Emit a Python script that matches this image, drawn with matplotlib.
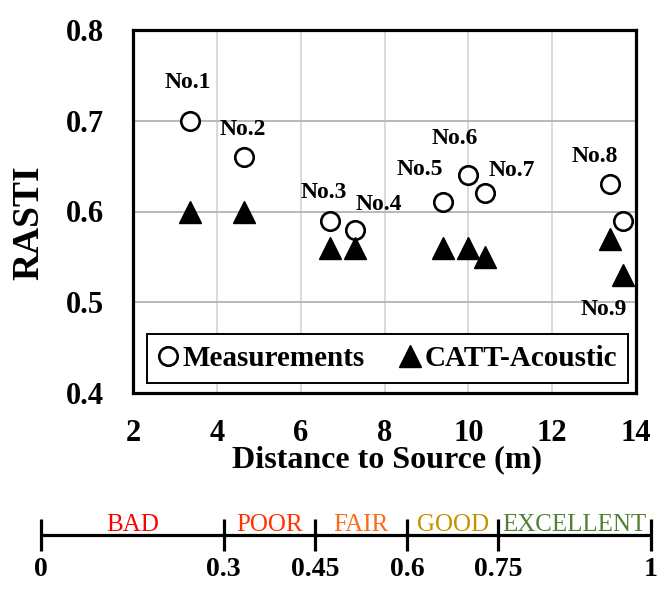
import matplotlib
matplotlib.use("Agg")
import matplotlib.pyplot as plt
from matplotlib.lines import Line2D

plt.rcParams['font.family'] = ['Liberation Serif', 'DejaVu Serif']

# ---- data ----
distance = [3.36, 4.64, 6.70, 7.29, 9.39, 10.0, 10.39, 13.39, 13.68]
measured = [0.70, 0.66, 0.59, 0.58, 0.61, 0.64, 0.62, 0.63, 0.59]
catt = [0.60, 0.60, 0.56, 0.56, 0.56, 0.56, 0.55, 0.57, 0.53]
point_labels = ['No.1', 'No.2', 'No.3', 'No.4', 'No.5', 'No.6', 'No.7', 'No.8', 'No.9']
x_ticks = [2, 4, 6, 8, 10, 12, 14]
y_ticks = [0.4, 0.5, 0.6, 0.7, 0.8]

scale_bounds = [0, 0.3, 0.45, 0.6, 0.75, 1]
scale_tick_labels = ['0', '0.3', '0.45', '0.6', '0.75', '1']
scale_categories = ['BAD', 'POOR', 'FAIR', 'GOOD', 'EXCELLENT']

# ---- layout / style ----
label_offsets = [(-2, 33), (-1, 22), (-6, 23), (24, 20), (-23, 27),
                 (-14, 31), (27, 17), (-16, 22), (-19, -40)]
label_on_catt = [False] * 8 + [True]
cat_colors = ['#ff0000', '#ff3300', '#ff6a13', '#c39200', '#538135']

fig = plt.figure(figsize=(6.66, 5.9), dpi=100)
ax = fig.add_axes([133 / 666, 197 / 590, 503 / 666, 363 / 590])

ax.set_xlim(2, 14)
ax.set_ylim(0.4, 0.8)
ax.set_xticks(x_ticks)
ax.set_yticks(y_ticks)
ax.set_xticklabels([str(t) for t in x_ticks])
ax.set_yticklabels([f'{t:.1f}' for t in y_ticks])
ax.tick_params(axis='both', length=0, labelsize=22)
ax.tick_params(axis='x', pad=19)
ax.tick_params(axis='y', pad=21)
for lab in ax.get_xticklabels() + ax.get_yticklabels():
    lab.set_fontweight('bold')

ax.grid(axis='y', color='#b8b8b8', lw=1.4)
ax.grid(axis='x', color='#d9d9d9', lw=1.4)
ax.set_axisbelow(True)
for sp in ax.spines.values():
    sp.set_linewidth(2.3)
    sp.set_color('black')

ax.plot(distance, measured, linestyle='none', marker='o', ms=13.3,
        mfc='white', mec='black', mew=1.9, zorder=3)
ax.plot(distance, catt, linestyle='none', marker='^', ms=15.5,
        mfc='black', mec='black', mew=1, zorder=3)

for i, lab in enumerate(point_labels):
    yv = catt[i] if label_on_catt[i] else measured[i]
    ax.annotate(lab, (distance[i], yv), xytext=label_offsets[i],
                textcoords='offset pixels', ha='center', va='baseline',
                fontsize=17, fontweight='bold', zorder=4)

ax.set_ylabel('RASTI', fontsize=27, fontweight='bold')
ax.yaxis.set_label_coords(-0.173, 0.468)
ax.set_xlabel('Distance to Source (m)', fontsize=23, fontweight='bold', va='top')
ax.xaxis.set_label_coords(0.505, -0.143)

handles = [Line2D([], [], linestyle='none', marker='o', ms=13.3, mfc='white',
                  mec='black', mew=1.9),
           Line2D([], [], linestyle='none', marker='^', ms=15.5, mfc='black',
                  mec='black', mew=1)]
leg = ax.legend(handles, ['Measurements', 'CATT-Acoustic'], ncol=2,
                loc='lower center', bbox_to_anchor=(0.506, 0.028),
                prop={'family': 'Liberation Serif', 'weight': 'bold', 'size': 21},
                frameon=True, fancybox=False, edgecolor='black', framealpha=1,
                handlelength=0.7, handletextpad=0.15, columnspacing=1.2,
                borderpad=0.38, borderaxespad=0)
leg.get_frame().set_linewidth(1.4)

# ---- scale bar ----
sax = fig.add_axes([40.7 / 666, 35 / 590, 610.3 / 666, 40 / 590])
sax.set_xlim(0, 1)
sax.set_ylim(-1, 1)
sax.axis('off')
sax.plot([scale_bounds[0], scale_bounds[-1]], [0, 0], color='black', lw=2.3,
         solid_capstyle='butt', clip_on=False)
sax.vlines(scale_bounds, -0.8, 0.8, color='black', lw=2.3, clip_on=False)
for b, t in zip(scale_bounds, scale_tick_labels):
    sax.text(b, -2.05, t, ha='center', va='baseline', fontsize=20,
             fontweight='bold', clip_on=False)
for i, c in enumerate(scale_categories):
    mid = (scale_bounds[i] + scale_bounds[i + 1]) / 2
    sax.text(mid, 0.2, c, ha='center', va='baseline', fontsize=18,
             color=cat_colors[i], clip_on=False)

fig.savefig('out.png', dpi=100)
